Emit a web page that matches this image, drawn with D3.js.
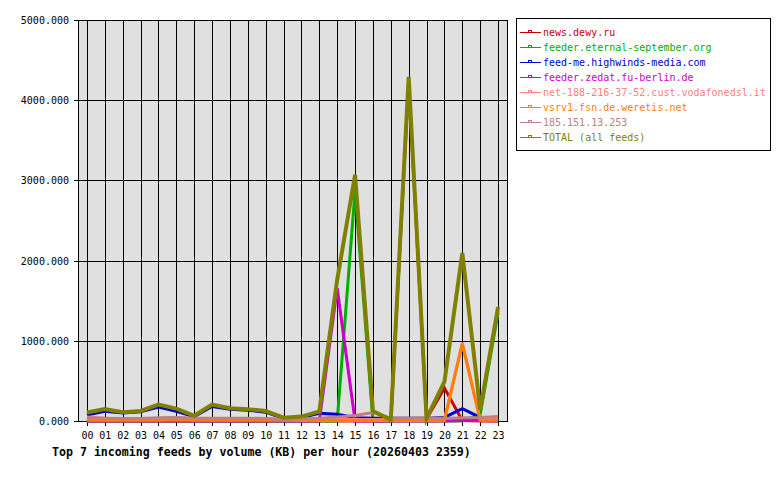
<!DOCTYPE html>
<html>
<head>
<meta charset="utf-8">
<script src="https://cdn.jsdelivr.net/npm/d3@7"></script>
<style>
  body { margin: 0; background: #fff; }
  text { font-family: "DejaVu Sans Mono", monospace; }
</style>
</head>
<body>
<script>
var hours = ["00","01","02","03","04","05","06","07","08","09","10","11",
             "12","13","14","15","16","17","18","19","20","21","22","23"];

var yTicks = [0, 1000, 2000, 3000, 4000, 5000];

var feedNames = ["news.dewy.ru", "feeder.eternal-september.org", "feed-me.highwinds-media.com",
                 "feeder.zedat.fu-berlin.de", "net-188-216-37-52.cust.vodafonedsl.it",
                 "vsrv1.fsn.de.weretis.net", "185.151.13.253", "TOTAL (all feeds)"];

var feedColors = ["#cc0000", "#00b000", "#0000cc", "#cc00cc", "#ff8080", "#ff8000", "#c08080", "#808000"];

var newsDewy  = [0,0,0,0,0,0,0,0,0,0,0,0,0,0,0,0,0,0,4230,25,410,5,0,0];
var eternal   = [0,0,0,0,0,0,0,0,0,0,0,0,0,0,0,2870,0,0,0,0,0,0,80,1350];
var highwinds = [75,120,100,115,175,120,55,180,145,135,110,30,45,95,85,40,35,35,35,35,45,155,45,40];
var zedat     = [0,0,0,0,0,0,0,0,0,0,0,0,0,0,1655,0,0,0,0,0,0,5,5,0];
var net188    = [50,35,30,30,30,40,30,30,30,30,30,20,20,20,20,20,20,20,20,20,20,975,20,20];
var vsrv1     = [10,10,10,10,10,15,10,10,10,10,10,10,5,5,5,5,5,5,5,5,5,960,10,10];
var ip185     = [40,35,30,30,40,45,35,35,35,35,30,20,25,35,50,70,105,35,35,40,30,40,45,55];
var total     = [105,150,110,125,205,155,65,205,160,148,125,42,55,120,1760,3070,125,15,4290,33,490,2095,140,1420];

var series = [newsDewy, eternal, highwinds, zedat, net188, vsrv1, ip185, total];

var width = 780, height = 480;
var plotL = 78, plotR = 507, plotT = 20, plotB = 421;

var svg = d3.select("body").append("svg")
    .attr("width", width)
    .attr("height", height);

svg.append("rect")
    .attr("width", width).attr("height", height)
    .attr("fill", "#fff");

var x = d3.scalePoint().domain(hours).range([plotL, plotR]).padding(0.5);
var y = d3.scaleLinear().domain([0, 5000]).range([plotB, plotT]);

// plot background
svg.append("rect")
    .attr("x", plotL).attr("y", plotT)
    .attr("width", plotR - plotL).attr("height", plotB - plotT)
    .attr("fill", "#e0e0e0");

// grid
svg.selectAll(".hgrid")
    .data(yTicks)
  .enter().append("line")
    .attr("class", "hgrid")
    .attr("x1", plotL - 4).attr("x2", plotR)
    .attr("y1", function(d){ return Math.round(y(d)) + 0.5; })
    .attr("y2", function(d){ return Math.round(y(d)) + 0.5; })
    .attr("stroke", "#000");

svg.selectAll(".vgrid")
    .data(hours)
  .enter().append("line")
    .attr("class", "vgrid")
    .attr("x1", function(d){ return Math.round(x(d)) + 0.5; })
    .attr("x2", function(d){ return Math.round(x(d)) + 0.5; })
    .attr("y1", plotT).attr("y2", plotB + 5)
    .attr("stroke", "#000");

svg.append("rect")
    .attr("x", plotL + 0.5).attr("y", plotT + 0.5)
    .attr("width", plotR - plotL).attr("height", plotB - plotT)
    .attr("fill", "none")
    .attr("stroke", "#000");

// axis labels
svg.selectAll(".ylab")
    .data(yTicks)
  .enter().append("text")
    .attr("class", "ylab")
    .attr("x", 69)
    .attr("y", function(d){ return y(d) + 4; })
    .attr("text-anchor", "end")
    .attr("font-size", "10px")
    .text(d3.format(".3f"));

svg.selectAll(".xlab")
    .data(hours)
  .enter().append("text")
    .attr("class", "xlab")
    .attr("x", function(d){ return x(d) + 0.5; })
    .attr("y", 438.5)
    .attr("text-anchor", "middle")
    .attr("font-size", "10px")
    .text(function(d){ return d; });

svg.append("text")
    .attr("x", 52)
    .attr("y", 456)
    .attr("font-size", "11.6px")
    .attr("font-weight", "bold")
    .text("Top 7 incoming feeds by volume (KB) per hour (20260403 2359)");

// lines
var line = d3.line()
    .x(function(d, i){ return x(hours[i]); })
    .y(function(d){ return y(d); });

svg.selectAll(".feed")
    .data(series)
  .enter().append("path")
    .attr("class", "feed")
    .attr("d", line)
    .attr("fill", "none")
    .attr("stroke", function(d, i){ return feedColors[i]; })
    .attr("stroke-width", function(d, i){ return i === series.length - 1 ? 4 : 3; })
    .attr("stroke-linejoin", "miter");

// legend
svg.append("rect")
    .attr("x", 516.5).attr("y", 18.5)
    .attr("width", 254).attr("height", 132)
    .attr("fill", "#fff")
    .attr("stroke", "#000");

var leg = svg.selectAll(".leg")
    .data(feedNames)
  .enter().append("g")
    .attr("class", "leg")
    .attr("transform", function(d, i){ return "translate(0," + (32 + i * 15) + ")"; });

leg.append("line")
    .attr("x1", 520).attr("x2", 541)
    .attr("y1", 0.5).attr("y2", 0.5)
    .attr("stroke", function(d, i){ return feedColors[i]; });

leg.append("rect")
    .attr("x", 528.5).attr("y", -1.5)
    .attr("width", 3).attr("height", 2)
    .attr("fill", "none")
    .attr("stroke", function(d, i){ return feedColors[i]; });

leg.append("text")
    .attr("x", 543)
    .attr("y", 4)
    .attr("font-size", "10px")
    .attr("fill", function(d, i){ return feedColors[i]; })
    .text(function(d){ return d; });
</script>
</body>
</html>
